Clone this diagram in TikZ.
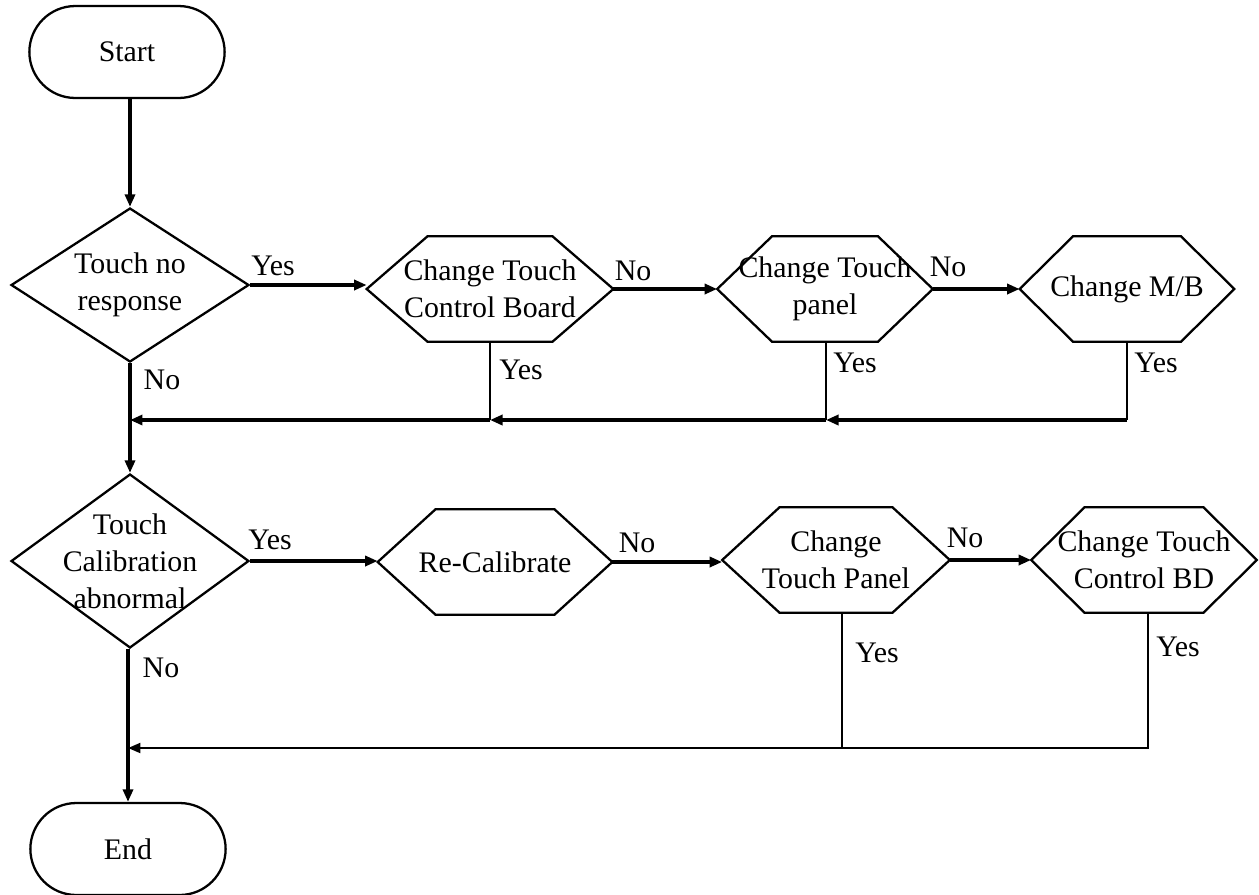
\documentclass[tikz,border=0pt]{standalone}
\usepackage{fontspec}
\setmainfont{Liberation Serif}
\usetikzlibrary{arrows.meta,shapes.geometric,shapes.misc}

\begin{document}
\begin{tikzpicture}[x=0.02cm,y=-0.02cm,>={Triangle[length=2.5mm,width=2mm]},
 txt/.style={font=\fontsize{17}{21}\selectfont,align=center},
 term/.style={txt,draw,line width=1.3pt,rounded rectangle,minimum width=4.14cm,minimum height=1.84cm},
 dec/.style={txt,draw,line width=1.3pt,diamond,inner xsep=-1cm,inner ysep=-0.6cm,minimum width=4.76cm},
 act/.style={txt,inner xsep=-1cm,inner ysep=-1cm,minimum height=2.1cm},
 hexline/.style={draw,line width=1.3pt,line join=miter},
 a/.style={->,line width=1.8pt},f/.style={line width=1.1pt},l/.style={txt,inner sep=0pt}]
 \useasboundingbox (0,0) rectangle (1259,894);
 % first check
 \node[term] (start) at (127,52) {Start};
 \node[dec,minimum height=3.08cm] (q1) at (130,285) {Touch no\\response};
 \node[act,minimum width=4.92cm] (ctcb) at (490,289) {Change Touch\\Control Board};
 \node[act,minimum width=4.3cm] (ctp) at (825,289) {Change Touch\\panel};
 \node[act,minimum width=4.28cm] (cmb) at (1127,289) {Change M/B};
 % second check
 \node[dec,minimum height=3.48cm] (q2) at (130,561) {Touch\\Calibration\\abnormal};
 \node[act,minimum width=4.68cm] (rc) at (495,562) {Re-Calibrate};
 \node[act,minimum width=4.54cm] (ctp2) at (836,560) {Change\\Touch Panel};
 \node[act,minimum width=4.5cm] (ctbd) at (1144,560) {Change Touch\\Control BD};
 \node[term] (end) at (128,849) {End};
 % hexagon outlines
 \foreach \n/\c in {ctcb/1.22,ctp/1.1,cmb/1.07,rc/1.16,ctp2/1.15,ctbd/1.07}
  \draw[hexline] ([xshift=\c cm]\n.north west) -- ([xshift=-\c cm]\n.north east) -- (\n.east)
   -- ([xshift=-\c cm]\n.south east) -- ([xshift=\c cm]\n.south west) -- (\n.west) -- cycle;
 \coordinate (j1) at (130,420);
 \coordinate (j1a) at (490,420);
 \coordinate (j1b) at (826,420);
 \coordinate (j1c) at (1127,420);
 \draw[a] (start.south -| q1.north)--(q1.north);
 \draw[a] (q1.east)--(q1.east -| ctcb.west);
 \draw[a] (ctcb.east)--(ctp.west);
 \draw[a] (ctp.east)--(cmb.west);
 \draw[f] (ctcb.south -| j1a)--(j1a);
 \draw[f] (ctp.south -| j1b)--(j1b);
 \draw[f] (cmb.south -| j1c)--(j1c);
 \draw[a] (j1c)--(j1b);
 \draw[a] (j1b)--(j1a);
 \draw[a] (j1a)--(j1);
 \draw[a] (q1.south)--(q2.north);
 \node[l] (y1) at (273,266) {Yes};
 \node[l] (n1) at (633,271) {No};
 \node[l] (n2) at (948,267) {No};
 \node[l] (y2) at (521,370) {Yes};
 \node[l] (y3) at (855,363) {Yes};
 \node[l] (y4) at (1156,363) {Yes};
 \node[l] (n3) at (162,380) {No};
 \coordinate (j2) at (128,748);
 \coordinate (j2a) at (842,748);
 \coordinate (j2b) at (1148,748);
 \draw[a] (q2.east)--(q2.east -| rc.west);
 \draw[a] (rc.east)--(rc.east -| ctp2.west);
 \draw[a] (ctp2.east)--(ctbd.west);
 \draw[f] (ctp2.south -| j2a)--(j2a);
 \draw[f] (ctbd.south -| j2b)--(j2b)--(j2a);
 \draw[a,line width=1.3pt] (j2a)--(j2);
 \draw[a] (q2.south -| end.north)--(end.north);
 \node[l] (y5) at (270,540) {Yes};
 \node[l] (n4) at (637,543) {No};
 \node[l] (n5) at (965,538) {No};
 \node[l] (y6) at (877,653) {Yes};
 \node[l] (y7) at (1178,647) {Yes};
 \node[l] (n6) at (161,668) {No};
\end{tikzpicture}
\end{document}
